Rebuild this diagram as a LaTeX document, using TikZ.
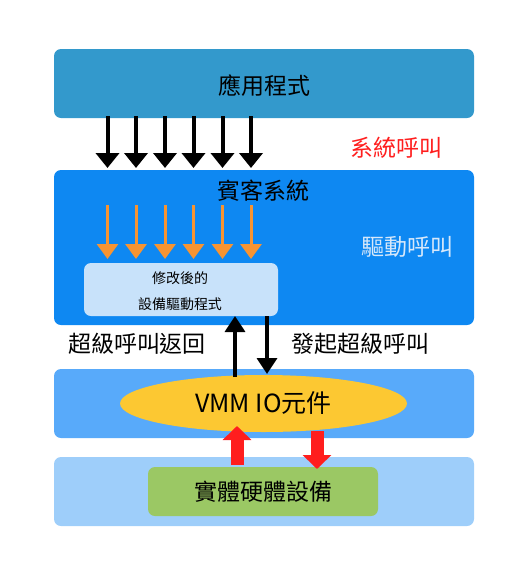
\documentclass[tikz,border=0pt]{standalone}
\usepackage{fontspec}
\setmainfont{Noto Sans CJK TC}
\usetikzlibrary{arrows.meta,shapes.geometric}
\definecolor{appblue}{RGB}{51,153,204}
\definecolor{guestblue}{RGB}{14,136,242}
\definecolor{vmmblue}{RGB}{88,170,250}
\definecolor{hwblue}{RGB}{158,206,250}
\definecolor{drvblue}{RGB}{200,226,250}
\definecolor{ellyellow}{RGB}{252,200,50}
\definecolor{hwgreen}{RGB}{155,200,100}
\definecolor{arrorange}{RGB}{247,148,50}
\definecolor{callred}{RGB}{255,30,30}
\definecolor{drvtext}{RGB}{215,232,250}
\tikzset{
  layer/.style={rounded corners=7pt, draw=none, minimum width=420pt, inner sep=0pt},
  blackarr/.style={line width=4pt, -{Triangle[width=23pt,length=15pt]}},
  orangearr/.style={draw=arrorange, line width=3pt, -{Triangle[width=21pt,length=15pt]}},
  callarr/.style={line width=3.5pt, -{Triangle[width=20pt,length=16pt]}},
  redarr/.style={draw=callred, line width=13pt, -{Triangle[width=28pt,length=14pt]}},
  lbl/.style={inner sep=0pt, font=\fontsize{23}{27}\selectfont}
}
\begin{document}
\begin{tikzpicture}[x=1pt,y=-1pt]
\useasboundingbox (0,0) rectangle (511,574);
% layers
\node[layer, fill=appblue, minimum height=69pt] (app) at (264,83.5) {};
\node[lbl] (apptxt) at (264,86) {應用程式};
\node[layer, fill=guestblue, minimum height=155pt] (guest) at (264,247.5) {};
\node[lbl] (guesttxt) at (263,191) {賓客系統};
\node[lbl, text=drvtext] (drvcall) at (407,247) {驅動呼叫};
\node[lbl, text=callred] (syscall) at (396,148) {系統呼叫};
\node[rounded corners=7pt, fill=drvblue, minimum width=194pt, minimum height=53pt, inner sep=0pt] (drv) at (181,289.5) {};
\node[inner sep=0pt, font=\fontsize{14}{16}\selectfont] (drv1) at (180,278) {修改後的};
\node[inner sep=0pt, font=\fontsize{14}{16}\selectfont] (drv2) at (180,304) {設備驅動程式};
\node[layer, fill=vmmblue, minimum height=69pt] (vmm) at (264,403.5) {};
\node[ellipse, fill=ellyellow, minimum width=287pt, minimum height=57pt, inner sep=0pt] (io) at (263.5,403.5) {};
\node[lbl, font=\fontsize{25}{29}\selectfont] (iotxt) at (263.5,403) {VMM IO元件};
\node[layer, fill=hwblue, minimum height=69pt] (hw) at (264,491.5) {};
\node[rounded corners=7pt, fill=hwgreen, minimum width=230pt, minimum height=49pt, inner sep=0pt] (dev) at (263,491.5) {};
\node[lbl] (devtxt) at (263,492) {實體硬體設備};
\node[lbl] (retlbl) at (137,344) {超級呼叫返回};
\node[lbl] (calllbl) at (360,344) {發起超級呼叫};
% black syscall arrows
\foreach \i/\x in {1/107.5,2/136,3/165,4/193.5,5/222.5,6/251}{
  \coordinate (bs\i) at (\x,116);
  \coordinate (be\i) at (\x,168);
  \draw[blackarr] (bs\i) -- (be\i);
  \coordinate (os\i) at (\x,205);
  \coordinate (oe\i) at (\x,259);
  \draw[orangearr] (os\i) -- (oe\i);
}
% hypercall arrows
\coordinate (upS) at (235,377);
\coordinate (upE) at (235,316);
\draw[callarr] (upS) -- (upE);
\coordinate (dnS) at (267,316);
\coordinate (dnE) at (267,374);
\draw[callarr] (dnS) -- (dnE);
% red hardware arrows
\coordinate (ruS) at (237,465);
\coordinate (ruE) at (237,426);
\draw[redarr] (ruS) -- (ruE);
\coordinate (rdS) at (317,431);
\coordinate (rdE) at (317,469);
\draw[redarr] (rdS) -- (rdE);
\end{tikzpicture}
\end{document}
